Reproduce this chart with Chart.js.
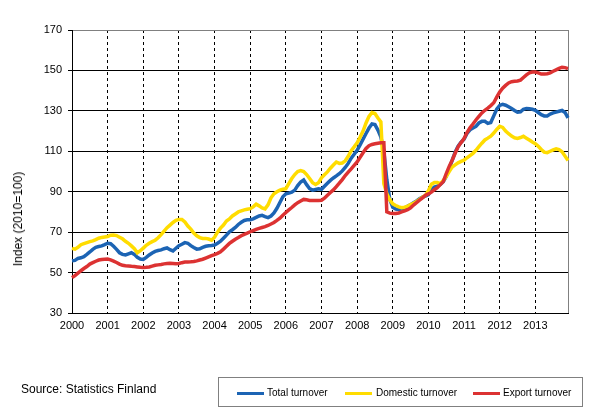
<!DOCTYPE html>
<html>
<head>
<meta charset="utf-8">
<script src="https://cdn.jsdelivr.net/npm/chart.js@4.4.0/dist/chart.umd.min.js"></script>
<style>
  html, body { margin: 0; padding: 0; background: #fff; }
  #wrap { position: relative; width: 593px; height: 416px; font-family: "Liberation Sans", Arial, sans-serif; }
  #c { position: absolute; left: 0; top: 0; }
  #ytitle { position: absolute; left: 17.5px; top: 219px; transform: translate(-50%, -50%) rotate(-90deg); font-size: 12px; white-space: nowrap; color: #000; }
  #source { position: absolute; left: 21px; top: 382px; font-size: 12px; color: #000; white-space: nowrap; }
  #legend { position: absolute; left: 218px; top: 377px; width: 365px; height: 30px; border: 1px solid #808080; box-sizing: border-box; }
  .li { position: absolute; top: 0; height: 30px; }
  .sw { position: absolute; top: 14px; width: 27px; height: 3px; }
  .lt { position: absolute; top: 9px; font-size: 10px; white-space: nowrap; color: #000; }
</style>
</head>
<body>
<div id="wrap">
  <canvas id="c" width="593" height="416"></canvas>
  <div id="ytitle">Index (2010=100)</div>
  <div id="source">Source: Statistics Finland</div>
  <div id="legend"></div>
</div>
<script>
const years = [2000,2001,2002,2003,2004,2005,2006,2007,2008,2009,2010,2011,2012,2013];
const months = ['01','02','03','04','05','06','07','08','09','10','11','12'];
const seriesNames = ['Total turnover','Domestic turnover','Export turnover'];
const seriesColors = ['#1c64b4','#ffdc00','#dc3232'];

const totalTurnover = [
55.8,56.0,57.0,57.3,57.9,59.0,60.2,61.5,62.5,62.9,63.2,63.8,
64.5,64.3,63.0,61.5,59.8,59.0,58.7,59.3,59.8,59.0,57.5,56.7,
56.5,57.5,58.7,59.7,60.5,60.9,61.2,61.8,62.2,61.3,60.7,62.0,
63.3,64.0,64.8,64.5,63.3,62.4,61.6,61.8,62.5,63.0,63.3,63.4,
63.6,64.5,65.5,67.0,68.5,70.2,71.2,72.3,73.8,74.9,75.8,76.1,
76.1,76.6,77.3,78.0,78.3,77.7,77.2,78.0,79.5,81.8,84.7,87.5,
89.0,89.3,89.8,90.8,93.0,94.8,95.8,93.5,91.5,90.8,91.1,91.4,
91.2,92.7,94.2,95.6,96.8,97.8,98.9,100.3,102.0,104.0,106.6,108.5,
110.5,113.2,116.0,118.8,121.5,123.5,123.2,120.5,117.0,110.0,96.0,86.2,
82.3,81.4,81.2,81.4,81.9,82.8,83.6,84.5,85.4,86.5,87.3,87.8,
88.5,91.0,92.3,92.8,93.5,95.0,97.5,101.5,105.5,109.5,112.5,114.5,
116.0,118.8,120.6,121.5,122.3,124.0,124.8,124.8,123.8,124.2,127.5,130.8,
132.7,133.2,132.8,132.0,131.2,130.2,129.3,129.5,130.8,131.2,131.1,130.8,
130.3,129.2,128.1,127.5,127.5,128.4,129.0,129.4,129.8,130.2,129.2,126.5
];

const domesticTurnover = [
62.0,61.6,62.5,63.8,64.3,64.8,65.3,65.7,66.3,67.0,67.4,67.6,
67.8,68.5,68.6,68.3,67.5,66.7,65.5,64.5,63.2,61.8,59.8,60.8,
62.1,63.5,64.5,65.3,66.0,67.2,68.8,70.5,72.2,73.5,74.8,75.8,
76.3,76.3,75.0,73.0,71.5,69.5,68.2,67.3,66.9,66.9,66.6,66.0,
67.5,70.0,72.0,73.5,75.5,76.5,78.0,79.0,80.0,80.5,81.0,81.3,
81.6,82.5,83.8,83.0,82.0,81.5,83.5,87.0,89.0,90.0,90.8,91.2,
91.5,94.0,96.5,98.5,100.0,100.5,100.0,98.5,96.5,94.5,93.6,94.5,
96.9,98.4,99.8,101.6,103.2,104.7,104.0,104.2,105.3,107.5,110.3,112.2,
114.2,117.0,120.0,124.0,127.3,129.2,128.7,126.5,124.5,94.0,89.0,86.0,
84.0,83.2,82.5,82.1,82.3,82.8,83.6,84.3,85.2,86.2,87.3,88.2,
90.5,93.7,94.5,94.5,94.0,95.5,97.5,100.0,102.2,103.3,104.3,105.0,
105.6,106.8,107.9,109.0,110.5,112.3,114.0,115.6,116.5,117.5,119.0,120.8,
122.4,121.8,120.0,118.7,117.5,116.7,116.4,116.8,117.4,116.5,115.6,114.6,
113.8,112.5,110.9,109.6,109.3,110.0,110.7,111.2,110.8,109.8,107.6,105.5
];

const exportTurnover = [
47.5,48.5,49.7,50.9,52.0,53.0,54.2,54.9,55.6,56.2,56.5,56.6,
56.7,56.3,55.7,55.0,54.2,53.6,53.4,53.3,53.1,53.0,52.8,52.6,
52.5,52.6,52.8,53.2,53.6,53.8,54.0,54.3,54.5,54.6,54.5,54.4,
54.5,54.9,55.2,55.2,55.3,55.5,55.8,56.2,56.6,57.2,57.8,58.4,
58.9,59.5,60.3,61.6,63.0,64.4,65.5,66.5,67.3,68.2,68.9,69.5,
70.2,70.8,71.4,71.9,72.3,72.7,73.3,74.0,74.8,75.8,76.9,78.4,
79.7,81.0,82.2,83.5,84.6,85.4,86.2,86.0,85.7,85.7,85.7,85.6,
85.8,86.8,88.2,89.6,90.9,92.5,94.2,96.0,98.0,99.7,101.3,103.0,
104.7,107.0,109.3,111.4,112.8,113.4,113.7,114.0,114.2,114.2,80.0,79.4,
79.2,79.2,79.5,80.0,80.5,81.1,82.0,83.4,84.6,85.8,87.0,88.2,
88.9,89.8,91.0,92.0,93.5,95.0,99.0,102.5,105.6,109.0,112.2,114.3,
116.3,119.3,121.6,123.5,125.5,127.3,129.0,130.3,131.4,132.6,134.0,136.8,
139.3,141.2,142.6,143.8,144.4,144.6,144.8,145.2,146.5,147.8,148.8,149.2,
149.2,148.8,148.2,148.2,148.4,148.8,149.6,150.3,151.0,151.6,151.4,150.9
];

const yTicks = [30,50,70,90,110,130,150,170];

const labels = [];
years.forEach(y => months.forEach(m => labels.push(y + 'M' + m)));

const frame = {
  id: 'frame',
  beforeDatasetsDraw(chart) {
    const a = chart.chartArea, ctx = chart.ctx;
    ctx.save();
    ctx.strokeStyle = '#808080';
    ctx.lineWidth = 1;
    ctx.beginPath();
    ctx.moveTo(Math.round(a.right) + 0.5, a.top);
    ctx.lineTo(Math.round(a.right) + 0.5, a.bottom);
    ctx.stroke();
    ctx.restore();
  }
};

const seriesData = [totalTurnover, domesticTurnover, exportTurnover];
const orders = [2, 1, 0];

new Chart(document.getElementById('c'), {
  type: 'line',
  data: {
    labels: labels,
    datasets: seriesData.map((d, i) => ({
      label: seriesNames[i],
      data: d,
      borderColor: seriesColors[i],
      backgroundColor: seriesColors[i],
      borderWidth: 3.5,
      pointRadius: 0,
      tension: 0,
      fill: false,
      order: orders[i]
    }))
  },
  options: {
    responsive: false,
    animation: false,
    devicePixelRatio: 1,
    layout: { padding: { left: 0, right: 25, top: 30, bottom: 73 } },
    plugins: { legend: { display: false }, tooltip: { enabled: false } },
    scales: {
      x: {
        type: 'category',
        offset: false,
        afterFit: s => { s.height = 30; },
        grid: {
          drawTicks: false,
          lineWidth: 1,
          color: c => (c.index % 12 === 0 && c.index > 0) ? '#000' : 'transparent'
        },
        border: { display: true, color: '#000', width: 1, dash: [3, 3] },
        ticks: {
          autoSkip: false,
          maxRotation: 0,
          minRotation: 0,
          padding: 6,
          color: '#000',
          font: { family: 'Liberation Sans, Arial', size: 11 },
          callback: (v, i) => (i % 12 === 0) ? labels[i].slice(0, 4) : ''
        }
      },
      y: {
        min: 30,
        max: 170,
        afterFit: s => { s.width = 72; },
        afterBuildTicks: s => { s.ticks = yTicks.map(v => ({ value: v })); },
        grid: {
          drawTicks: true,
          tickLength: 4,
          lineWidth: 1,
          color: c => (c.tick && c.tick.value === 170) ? '#808080' : '#000',
          tickColor: '#000'
        },
        border: { display: true, color: '#000', width: 1 },
        ticks: {
          padding: 6,
          color: '#000',
          font: { family: 'Liberation Sans, Arial', size: 11 }
        }
      }
    }
  },
  plugins: [frame]
});

const legend = document.getElementById('legend');
const swatchX = [18, 126, 254];
const textX = [48, 157, 284];
seriesNames.forEach((n, i) => {
  const sw = document.createElement('div');
  sw.className = 'sw';
  sw.style.left = swatchX[i] + 'px';
  sw.style.background = seriesColors[i];
  legend.appendChild(sw);
  const t = document.createElement('div');
  t.className = 'lt';
  t.style.left = textX[i] + 'px';
  t.textContent = n;
  legend.appendChild(t);
});
</script>
</body>
</html>
